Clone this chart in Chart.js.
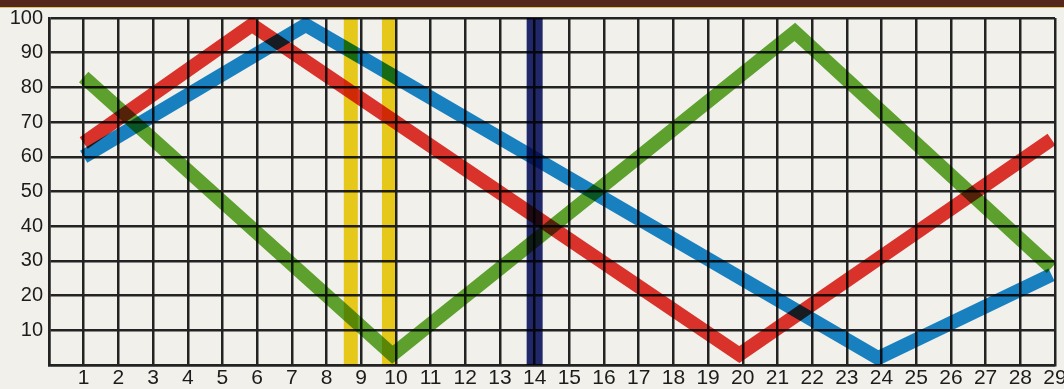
<!DOCTYPE html>
<html lang="en">
<head>
  <meta charset="UTF-8">
  <title>Biorhythm chart</title>
  <script src="https://cdn.jsdelivr.net/npm/chart.js"></script>
  <style>
    html, body { margin: 0; padding: 0; background: #f1f0eb; }
    #wrap { position: relative; width: 1064px; height: 389px; overflow: hidden; }
    #band {
      position: absolute; left: 0; top: 0; width: 1064px; height: 7px;
      background: #55261b; border-bottom: 1px solid #d8c46a; z-index: 2;
    }
    canvas { position: absolute; left: 0; top: 0; }
  </style>
</head>
<body>
  <div id="wrap">
    <div id="band"></div>
    <canvas id="chart" width="1064" height="389"></canvas>
  </div>

  <script>
    // tick labels
    var dayLabels = ['1', '2', '3', '4', '5', '6', '7', '8', '9', '10', '11', '12', '13', '14', '15',
      '16', '17', '18', '19', '20', '21', '22', '23', '24', '25', '26', '27', '28', '29'];
    var levelLabels = ['10', '20', '30', '40', '50', '60', '70', '80', '90', '100'];

    // turning points of each curve (day, level)
    var redDays = [1, 5.85, 19.9, 28.9];
    var redLevels = [64, 98, 3, 65];
    var blueDays = [1, 7.4, 23.9, 28.9];
    var blueLevels = [60, 98, 2, 26];
    var greenDays = [1, 9.9, 21.5, 28.9];
    var greenLevels = [83, 3, 96, 28];

    // vertical markers
    var yellowDays = [8.7, 9.8];
    var navyDay = 14;
    var markerSpan = [0, 100];

    function points(xs, ys) {
      return xs.map(function (x, i) { return { x: x, y: ys[i] }; });
    }

    function curve(xs, ys, color) {
      return {
        data: points(xs, ys),
        borderColor: color,
        borderWidth: 14,
        borderJoinStyle: 'miter',
        borderCapStyle: 'butt',
        pointRadius: 0,
        tension: 0,
        fill: false
      };
    }

    function marker(day, color, width) {
      return {
        data: markerSpan.map(function (v) { return { x: day, y: v }; }),
        borderColor: color,
        borderWidth: width,
        borderCapStyle: 'butt',
        pointRadius: 0,
        fill: false
      };
    }

    // paper background + ink-like overprinting
    var paper = {
      id: 'paper',
      beforeDraw: function (chart) {
        var ctx = chart.ctx;
        ctx.save();
        ctx.fillStyle = '#f1f0eb';
        ctx.fillRect(0, 0, chart.width, chart.height);
        ctx.restore();
      },
      beforeDatasetsDraw: function (chart) {
        chart.ctx.save();
        chart.ctx.globalCompositeOperation = 'multiply';
      },
      afterDatasetsDraw: function (chart) {
        chart.ctx.restore();
      }
    };

    Chart.defaults.font.family = "'Liberation Sans', Arial, sans-serif";
    Chart.defaults.font.size = 20;
    Chart.defaults.color = '#1c1c1c';

    var gridColor = '#232323';

    new Chart(document.getElementById('chart').getContext('2d'), {
      type: 'line',
      data: {
        datasets: [
          marker(yellowDays[0], '#f4d51c', 14),
          marker(yellowDays[1], '#f4d51c', 14),
          curve(redDays, redLevels, '#e6352d'),
          curve(blueDays, blueLevels, '#1a88d0'),
          curve(greenDays, greenLevels, '#62aa30'),
          marker(navyDay, '#222a72', 16)
        ]
      },
      options: {
        responsive: false,
        animation: false,
        layout: { padding: { top: 18, right: 9, left: 0, bottom: 0 } },
        plugins: { legend: { display: false }, tooltip: { enabled: false } },
        scales: {
          x: {
            type: 'linear',
            min: 0,
            max: 29,
            grid: { color: gridColor, lineWidth: 2.5, drawTicks: false },
            border: { color: gridColor, width: 2.5 },
            ticks: {
              stepSize: 1,
              autoSkip: false,
              maxRotation: 0,
              padding: 1,
              font: { size: 21 },
              callback: function (v) { return v === 0 ? '' : dayLabels[v - 1]; }
            },
            afterFit: function (scale) {
              scale.height = 24;
              scale.paddingLeft = 0;
              scale.paddingRight = 0;
            }
          },
          y: {
            min: 0,
            max: 100,
            grid: { color: gridColor, lineWidth: 2.5, drawTicks: false },
            border: { color: gridColor, width: 2.5 },
            ticks: {
              stepSize: 10,
              padding: 6,
              callback: function (v) { return v === 0 ? '' : levelLabels[v / 10 - 1]; }
            },
            afterFit: function (scale) {
              scale.width = 49;
            }
          }
        }
      },
      plugins: [paper]
    });
  </script>
</body>
</html>
